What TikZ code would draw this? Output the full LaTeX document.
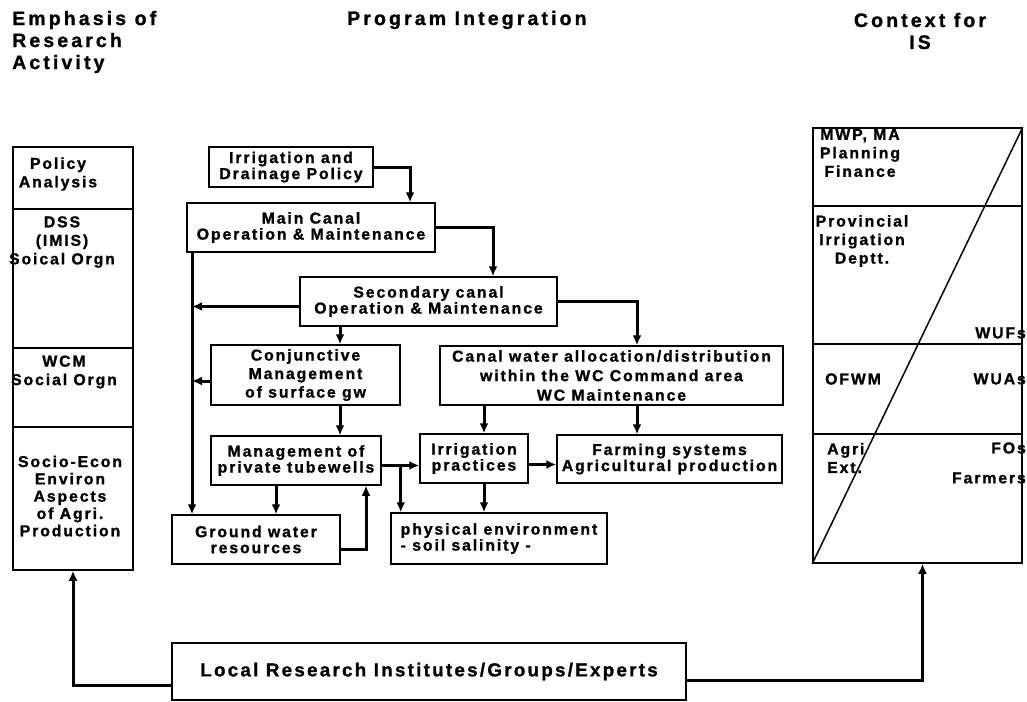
\documentclass[tikz,border=0pt]{standalone}
\usepackage{fontspec}
\setmainfont{Liberation Sans}[LetterSpace=12,BoldFeatures={FakeBold=1.2}]
\newfontfamily\headfont{Liberation Sans}[LetterSpace=16,BoldFeatures={FakeBold=1.2}]
\usetikzlibrary{arrows.meta,positioning}

\begin{document}
\begin{tikzpicture}[x=1pt,y=-1pt,>={Latex[length=10pt,width=9pt]},
  box/.style={draw,line width=1.5pt,inner sep=0pt,align=center,
    font=\fontsize{15.8}{16}\selectfont\bfseries},
  cell/.style={draw,line width=1.5pt,minimum width=120pt,inner sep=0pt},
  ctext/.style={align=center,inner sep=0pt,font=\fontsize{15.8}{18.5}\selectfont\bfseries},
  flow/.style={->,line width=3pt},
  head/.style={inner sep=0pt,font=\headfont\fontsize{19.5}{22}\selectfont\bfseries}]
  \useasboundingbox (0,0) rectangle (1027,701);

  % headings
  \node[head,anchor=west,align=left] (emph) at (12,42) {Emphasis of\\Research\\Activity};
  \node[head,anchor=west] (prog) at (347,20) {Program Integration};
  \node[head,align=center] (ctx) at (920,31) {Context for\\IS};

  % left column
  \node[cell,minimum height=62pt] (la) at (73,178) {};
  \node[cell,minimum height=139pt] (lb) at (73,278.5) {};
  \node[cell,minimum height=79pt] (lc) at (73,387.5) {};
  \node[cell,minimum height=143pt] (ld) at (73,498.5) {};
  \node[ctext] (pol) at (58,174) {Policy\\Analysis};
  \node[ctext] (dss) at (62,242) {DSS\\(IMIS)\\Soical Orgn};
  \node[ctext] (wcm) at (64,372) {WCM\\Social Orgn};
  \node[ctext,font=\fontsize{15.8}{17.3}\selectfont\bfseries] (sea) at (70,496)
    {Socio-Econ\\Environ\\Aspects\\of Agri.\\Production};

  % right column
  \node[cell,minimum width=209pt,minimum height=78pt] (ra) at (917.5,167) {};
  \node[cell,minimum width=209pt,minimum height=138pt] (rb) at (917.5,275) {};
  \node[cell,minimum width=209pt,minimum height=90pt] (rc) at (917.5,389) {};
  \node[cell,minimum width=209pt,minimum height=129pt] (rd) at (917.5,498.5) {};
  \draw[line width=1.5pt] (rd.south west) -- (ra.north east);
  \node[ctext] (mwp) at (860,153) {MWP, MA\\Planning\\Finance};
  \node[ctext] (pid) at (862,241) {Provincial\\Irrigation\\Deptt.};
  \node[ctext,anchor=east] (wuf) at (1026,333) {WUFs};
  \node[ctext,anchor=west] (ofwm) at (825,379) {OFWM};
  \node[ctext,anchor=east] (wua) at (1026,379) {WUAs};
  \node[ctext,anchor=west,align=left] (agri) at (827,458) {Agri\\Ext.};
  \node[ctext,anchor=east] (fos) at (1026,448) {FOs};
  \node[ctext,anchor=east] (farmers) at (1026,478) {Farmers};

  % program boxes
  \node[box,minimum width=164pt,minimum height=40pt] (idp) at (291,167) {Irrigation and\\Drainage Policy};
  \node[box,minimum width=248pt,minimum height=49pt] (mco) at (311,227.5) {Main Canal\\Operation \& Maintenance};
  \node[box,minimum width=257pt,minimum height=49pt] (sco) at (428.5,301.5) {Secondary canal\\Operation \& Maintenance};
  \node[box,minimum width=189pt,minimum height=60pt,font=\fontsize{15.8}{18.5}\selectfont\bfseries] (cjm) at (305.5,375) {Conjunctive\\Management\\of surface gw};
  \node[box,minimum width=343pt,minimum height=59pt,font=\fontsize{15.8}{19.5}\selectfont\bfseries] (cwa) at (611.5,375.5) {Canal water allocation/distribution\\within the WC Command area\\WC Maintenance};
  \node[box,minimum width=170pt,minimum height=49pt] (ptw) at (296,460.5) {Management of\\private tubewells};
  \node[box,minimum width=108pt,minimum height=49pt] (irp) at (474,458.5) {Irrigation\\practices};
  \node[box,minimum width=225pt,minimum height=48pt] (fsa) at (669.5,459) {Farming systems\\Agricultural production};
  \node[box,minimum width=168pt,minimum height=49pt] (gwr) at (256,539.5) {Ground water\\resources};
  \node[box,minimum width=216pt,minimum height=51pt,align=left] (phy) at (499,538.5) {physical environment\\- soil salinity -};
  \node[box,minimum width=514pt,minimum height=57pt,font=\fontsize{18.8}{20}\selectfont\bfseries] (lri) at (429,671.5) {Local Research Institutes/Groups/Experts};

  % connectors
  \coordinate (bus) at (192,0);
  \coordinate (split) at ([xshift=19pt,yshift=-5pt]ptw.east);
  \draw[flow] (idp.east) -| ([xshift=99pt]mco.north);
  \draw[flow] (mco.east) -| ([xshift=64.5pt]sco.north);
  \draw[flow] (mco.south -| bus) -- (gwr.north -| bus);
  \draw[flow] ([yshift=-5pt]sco.west) -- ([yshift=-5pt]sco.west -| bus);
  \draw[flow] ([xshift=-88.5pt]sco.south) -- ([xshift=34.5pt]cjm.north);
  \draw[flow] (sco.east) -| ([xshift=25.5pt]cwa.north);
  \draw[flow] ([yshift=-6pt]cjm.west) -- ([yshift=-6pt]cjm.west -| bus);
  \draw[flow] ([xshift=34.5pt]cjm.south) -- ([xshift=44pt]ptw.north);
  \draw[flow] ([yshift=-5pt]ptw.east) -- ([yshift=-5pt]ptw.east -| irp.west);
  \draw[flow] (split) -- (split |- phy.north);
  \draw[flow] ([xshift=-20pt]ptw.south) -- ([xshift=-20pt]ptw.south |- gwr.north);
  \draw[flow] ([yshift=-9.5pt]gwr.east) -| ([xshift=70pt]ptw.south);
  \draw[flow] ([xshift=10pt]irp.north |- cwa.south) -- ([xshift=10pt]irp.north);
  \draw[flow] ([xshift=25.5pt]cwa.south) -- ([xshift=25.5pt]cwa.south |- fsa.north);
  \draw[flow] ([yshift=-6pt]irp.east) -- ([yshift=-6pt]irp.east -| fsa.west);
  \draw[flow] ([xshift=10pt]irp.south) -- ([xshift=10pt]irp.south |- phy.north);
  \draw[flow] ([yshift=-13.5pt]lri.west) -| (ld.south);
  \draw[flow] ([yshift=-9pt]lri.east) -| ([xshift=5pt]rd.south);
\end{tikzpicture}
\end{document}
